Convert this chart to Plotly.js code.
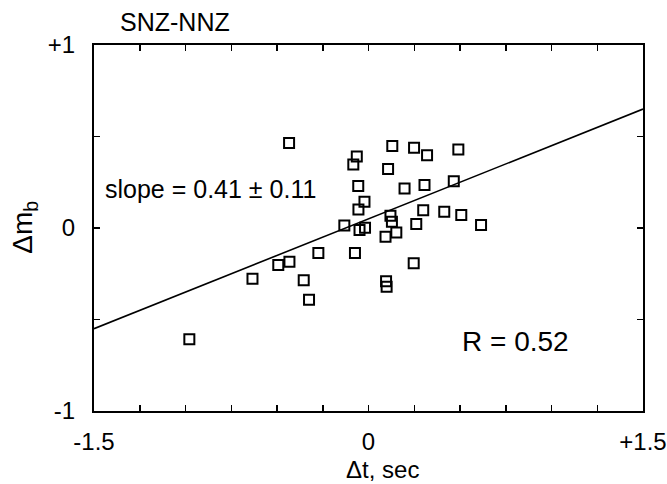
<!DOCTYPE html>
<html>
<head>
<meta charset="utf-8">
<script src="https://cdn.plot.ly/plotly-3.0.1.min.js"></script>
<style>html,body{margin:0;padding:0;background:#fff;}#chart{width:667px;height:484px;}</style>
</head>
<body>
<div id="chart"></div>
<script>
// Δt (sec) for each station pair event
const dtValues = [-0.434, -0.064, -0.083, -0.056, -0.022, -0.055, -0.132, -0.049, -0.019, -0.274,
  -0.074, -0.432, -0.493, -0.634, -0.354, -0.325, -0.979, 0.130, 0.249, 0.320,
  0.491, 0.107, 0.197, 0.306, 0.466, 0.299, 0.414, 0.507, 0.615, 0.120,
  0.128, 0.261, 0.152, 0.093, 0.247, 0.096, 0.099];
// Δmb for each event
const dmbValues = [0.464, 0.391, 0.347, 0.230, 0.144, 0.101, 0.013, -0.011, 0.001, -0.137,
  -0.137, -0.184, -0.202, -0.277, -0.286, -0.392, -0.608, 0.448, 0.439, 0.397,
  0.429, 0.323, 0.216, 0.235, 0.255, 0.097, 0.089, 0.071, 0.016, 0.067,
  0.034, 0.022, -0.025, -0.048, -0.193, -0.291, -0.321];
// regression line end points
const fitX = [-1.5, 1.5];
const fitY = [-0.55, 0.65];
// ticks
const xTickVals = [-1.5, -1.25, -1, -0.75, -0.5, -0.25, 0, 0.25, 0.5, 0.75, 1, 1.25, 1.5];
const xTickText = ["-1.5", "", "", "", "", "", "0", "", "", "", "", "", "+1.5"];
const yTickVals = [-1, -0.5, 0, 0.5, 1];
const yTickText = ["-1", "", "0", "", "+1"];
const titleText = "SNZ-NNZ";
const xTitle = "Δt, sec";
const yTitle = "Δm<sub>b</sub>";
const slopeText = "slope = 0.41 ± 0.11";
const rText = "R = 0.52";

const FONT = "Liberation Sans, Arial, sans-serif";

const traces = [
  {
    x: fitX, y: fitY, type: "scatter", mode: "lines",
    line: {color: "#000", width: 1.6}, hoverinfo: "skip", showlegend: false
  },
  {
    x: dtValues, y: dmbValues, type: "scatter", mode: "markers",
    marker: {symbol: "square-open", size: 10, color: "#000", line: {color: "#000", width: 2}},
    showlegend: false
  }
];

const axisCommon = {
  showgrid: false, zeroline: false, showline: true, linecolor: "#000", linewidth: 2,
  mirror: "ticks", ticks: "inside", ticklen: 6, tickwidth: 1.5, tickcolor: "#000",
  tickfont: {family: FONT, size: 24, color: "#000"}, tickmode: "array",
  ticklabeloverflow: "allow"
};

const layout = {
  width: 667, height: 484,
  margin: {l: 94, r: 24, t: 45, b: 73, pad: 0},
  paper_bgcolor: "#fff", plot_bgcolor: "#fff",
  title: {text: titleText, font: {family: FONT, size: 25, color: "#000"},
    xref: "container", yref: "container", x: 120/667, xanchor: "left", y: 1 - 22/484, yanchor: "middle"},
  xaxis: Object.assign({}, axisCommon, {range: [-1.5, 1.5], tickvals: xTickVals, ticktext: xTickText, ticklabelstandoff: 8}),
  yaxis: Object.assign({}, axisCommon, {range: [-1, 1], tickvals: yTickVals, ticktext: yTickText, ticklabelstandoff: 12}),
  annotations: [
    {text: xTitle, xref: "paper", yref: "paper", x: 0.525, y: -0.16, showarrow: false,
      xanchor: "center", yanchor: "middle", font: {family: FONT, size: 24, color: "#000"}},
    {text: yTitle, xref: "paper", yref: "paper", x: -0.126, y: 0.503, showarrow: false, textangle: -90,
      xanchor: "center", yanchor: "middle", font: {family: FONT, size: 28, color: "#000"}},
    {text: slopeText, xref: "paper", yref: "paper", x: 0.213, y: 0.607, showarrow: false,
      xanchor: "center", yanchor: "middle", font: {family: FONT, size: 25, color: "#000"}},
    {text: rText, xref: "paper", yref: "paper", x: 0.767, y: 0.189, showarrow: false,
      xanchor: "center", yanchor: "middle", font: {family: FONT, size: 28, color: "#000"}}
  ]
};

Plotly.newPlot("chart", traces, layout, {staticPlot: true, displayModeBar: false});
</script>
</body>
</html>
